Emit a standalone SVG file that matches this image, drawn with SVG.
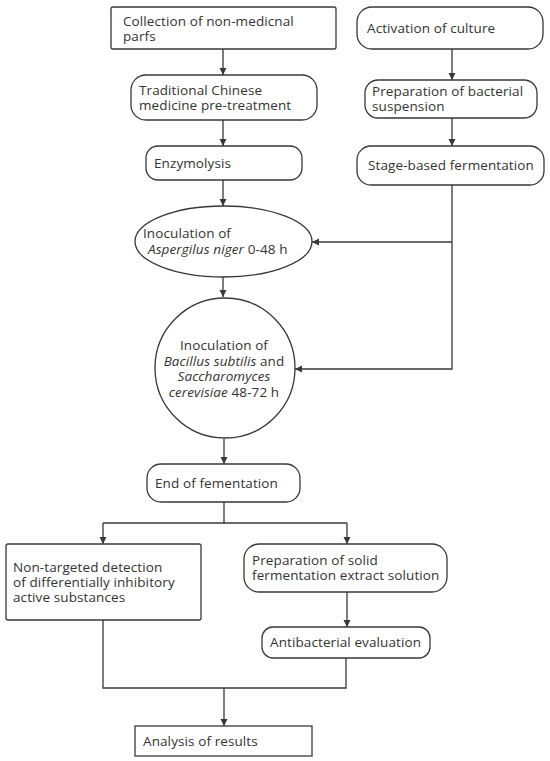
<svg xmlns="http://www.w3.org/2000/svg" width="550" height="761" viewBox="0 0 550 761">
<style>
.n{fill:#fff;stroke:#383838;stroke-width:1.3}
.t{font-family:"Open Sans","Noto Sans",sans-serif;font-size:13.5px;letter-spacing:0.1px;fill:#333}
.i{font-style:italic}
.c{fill:none;stroke:#383838;stroke-width:1.3}
</style>
<defs>
<marker id="a" viewBox="0 0 10 10" refX="10" refY="5" markerWidth="7" markerHeight="8" markerUnits="userSpaceOnUse" orient="auto">
<path d="M0,0L10,5L0,10z" fill="#383838"/>
</marker>
</defs>
<rect width="550" height="761" fill="#fff"/>
<g id="connectors">
<path class="c" d="M223,49V75" marker-end="url(#a)"/>
<path class="c" d="M223,120V146" marker-end="url(#a)"/>
<path class="c" d="M223,180V206" marker-end="url(#a)"/>
<path class="c" d="M452,49V80" marker-end="url(#a)"/>
<path class="c" d="M452,118V146" marker-end="url(#a)"/>
<path class="c" d="M452,185V369H295" marker-end="url(#a)"/>
<path class="c" d="M452,242H312" marker-end="url(#a)"/>
<path class="c" d="M223,277V297" marker-end="url(#a)"/>
<path class="c" d="M224,439V464" marker-end="url(#a)"/>
<path class="c" d="M224,502V523M103,523H347"/>
<path class="c" d="M103,523V544" marker-end="url(#a)"/>
<path class="c" d="M347,523V544" marker-end="url(#a)"/>
<path class="c" d="M347,592V627" marker-end="url(#a)"/>
<path class="c" d="M103,620V688H346V658"/>
<path class="c" d="M224,688V726" marker-end="url(#a)"/>
</g>
<g id="collection">
<rect class="n" x="111" y="7" width="225" height="42" rx="2"/>
<text class="t" x="123" y="26">Collection of non-medicnal</text>
<text class="t" x="123" y="41">parfs</text>
</g>
<g id="pretreatment">
<rect class="n" x="131" y="75" width="186" height="45" rx="15"/>
<text class="t" x="139" y="95">Traditional Chinese</text>
<text class="t" x="139" y="110">medicine pre-treatment</text>
</g>
<g id="enzymolysis">
<rect class="n" x="146" y="146" width="156" height="34" rx="12"/>
<text class="t" x="154" y="168">Enzymolysis</text>
</g>
<g id="activation">
<rect class="n" x="357" y="7" width="186" height="42" rx="15"/>
<text class="t" x="367" y="33">Activation of culture</text>
</g>
<g id="suspension">
<rect class="n" x="365" y="80" width="172" height="38" rx="13"/>
<text class="t" x="372" y="96">Preparation of bacterial</text>
<text class="t" x="372" y="111">suspension</text>
</g>
<g id="stage">
<rect class="n" x="357" y="146" width="187" height="39" rx="14"/>
<text class="t" x="368" y="170">Stage-based fermentation</text>
</g>
<g id="aspergillus">
<ellipse class="n" cx="223.5" cy="241.5" rx="88.5" ry="35.5"/>
<text class="t" x="143" y="238">Inoculation of</text>
<text class="t" x="148" y="254"><tspan class="i">Aspergilus niger</tspan> 0-48 h</text>
</g>
<g id="bacillus">
<circle class="n" cx="225" cy="368" r="70"/>
<text class="t" text-anchor="middle" x="224" y="350">Inoculation of</text>
<text class="t" text-anchor="middle" x="224" y="366"><tspan class="i">Bacillus subtilis</tspan> and</text>
<text class="t i" text-anchor="middle" x="224" y="381">Saccharomyces</text>
<text class="t" text-anchor="middle" x="224" y="397"><tspan class="i">cerevisiae</tspan> 48-72 h</text>
</g>
<g id="end">
<rect class="n" x="147" y="464" width="153" height="38" rx="14"/>
<text class="t" x="155" y="488">End of fementation</text>
</g>
<g id="nontargeted">
<rect class="n" x="6" y="544" width="195" height="76" rx="2"/>
<text class="t" x="13" y="572">Non-targeted detection</text>
<text class="t" x="13" y="587">of differentially inhibitory</text>
<text class="t" x="13" y="602">active substances</text>
</g>
<g id="extract">
<rect class="n" x="244" y="544" width="203" height="48" rx="15"/>
<text class="t" x="252" y="565">Preparation of solid</text>
<text class="t" x="252" y="580">fermentation extract solution</text>
</g>
<g id="antibacterial">
<rect class="n" x="262" y="627" width="168" height="31" rx="11"/>
<text class="t" x="270" y="647">Antibacterial evaluation</text>
</g>
<g id="analysis">
<rect class="n" x="135" y="726" width="177" height="30"/>
<text class="t" x="143" y="746">Analysis of results</text>
</g>
</svg>
